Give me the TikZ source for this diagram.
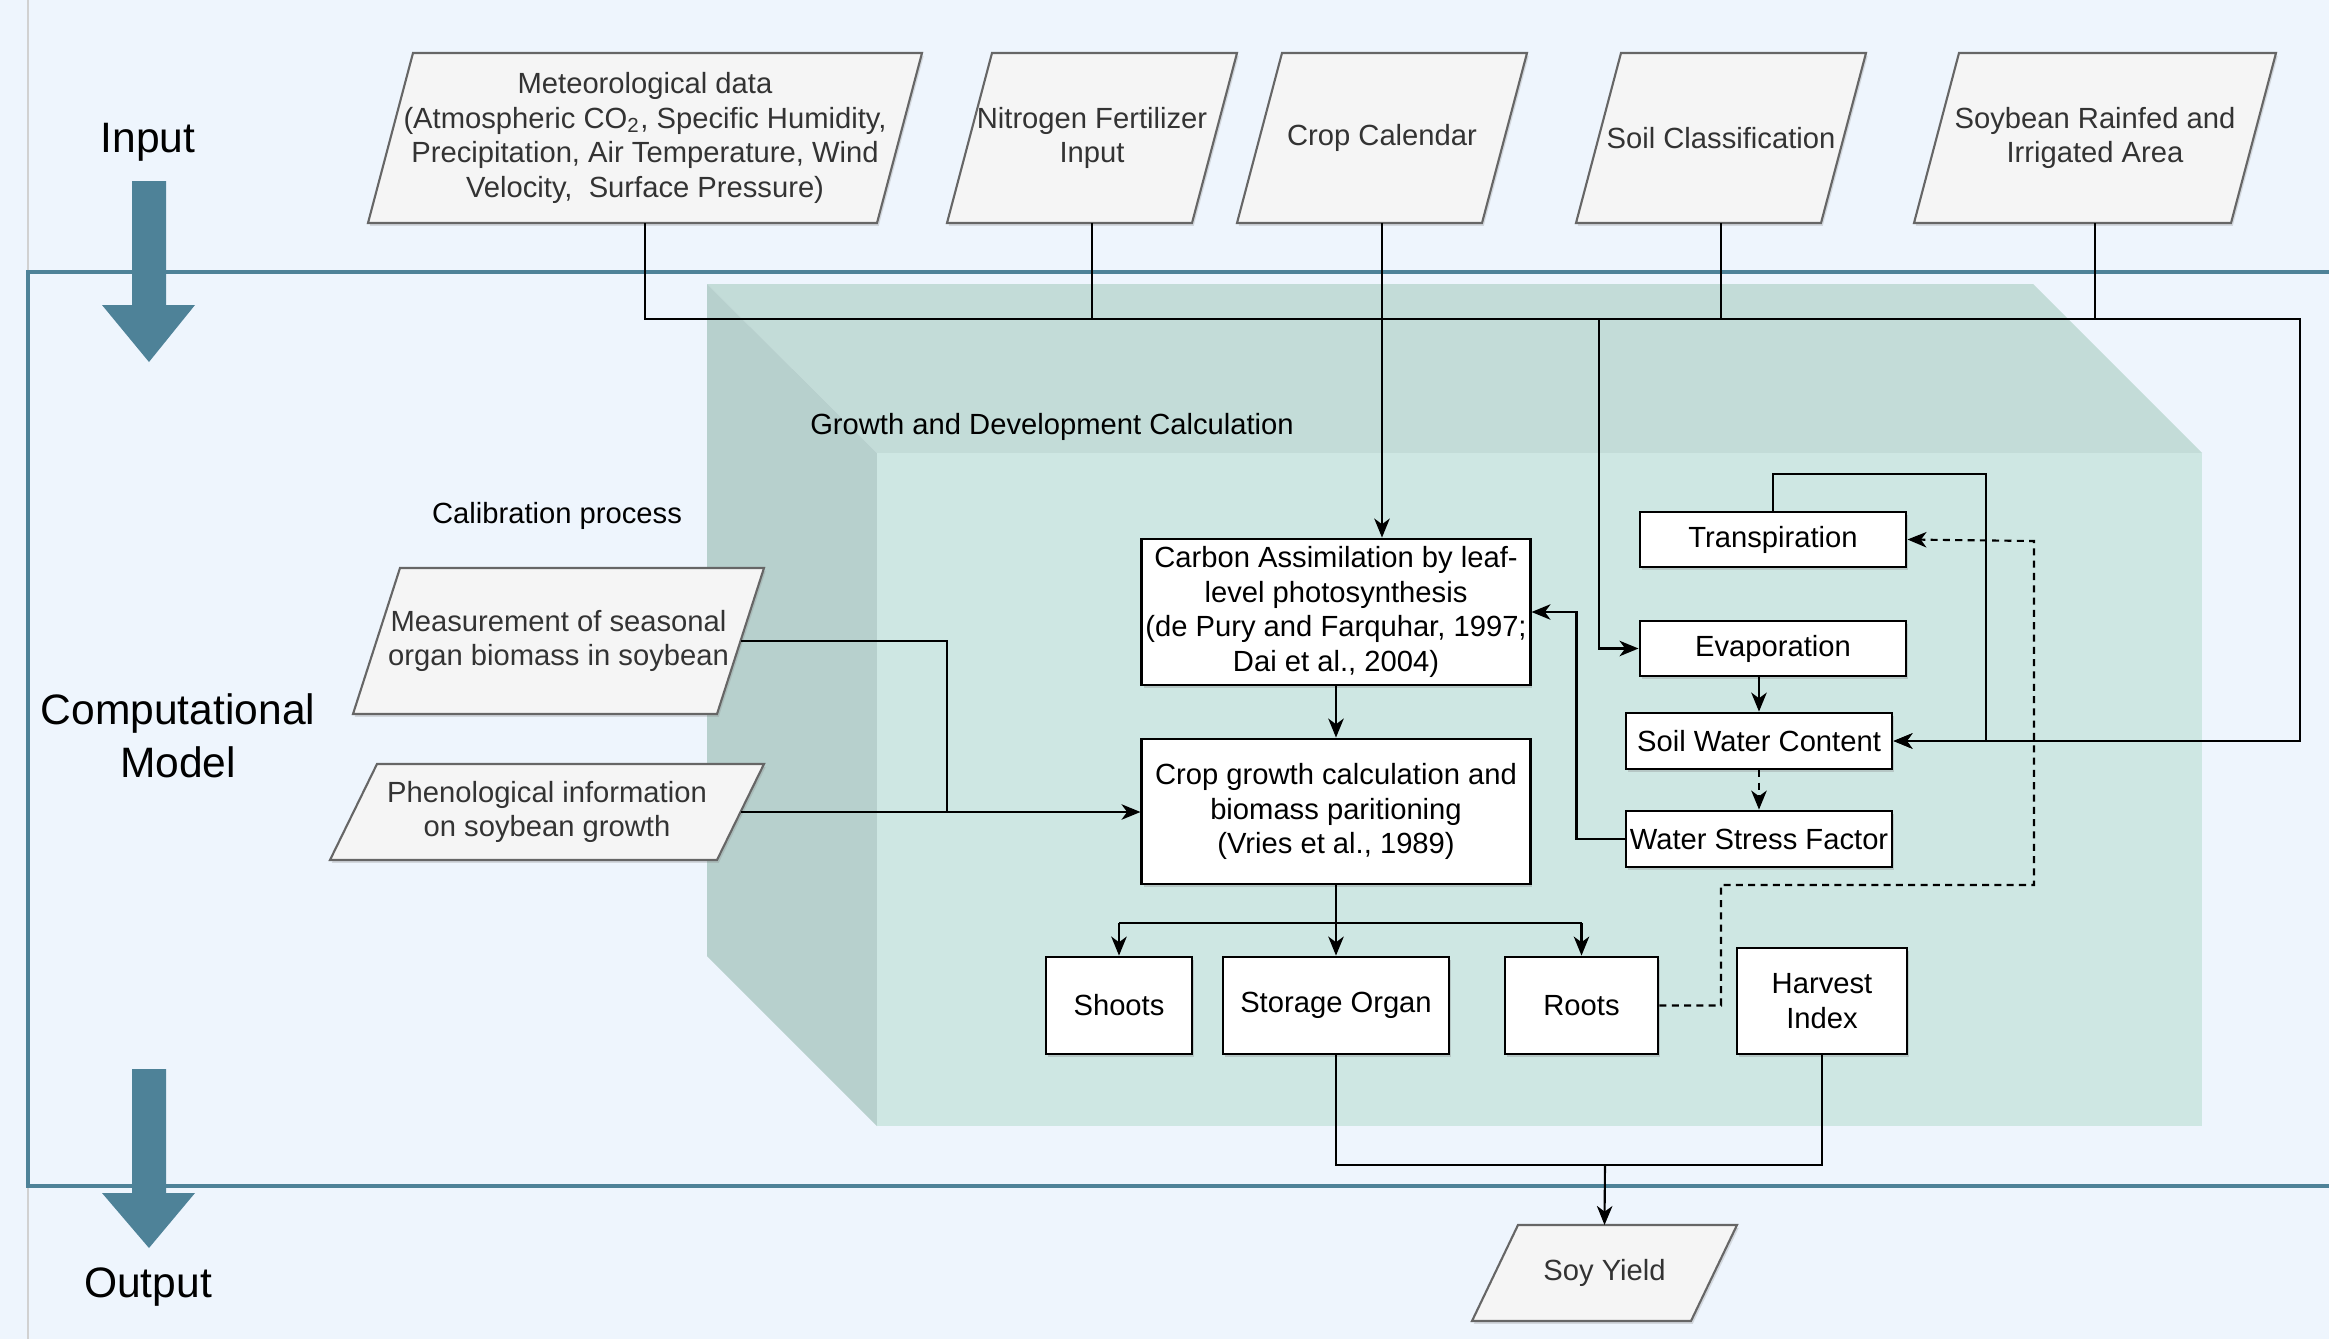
\documentclass[tikz,border=0pt]{standalone}
\usepackage{fontspec}
\setmainfont{Liberation Sans}
\usetikzlibrary{arrows.meta,shadows}
\definecolor{bgblue}{HTML}{EEF5FD}
\definecolor{frontface}{HTML}{CEE7E3}
\definecolor{toppanel}{HTML}{C3DCD8}
\definecolor{leftpanel}{HTML}{B7D0CD}
\definecolor{steel}{HTML}{4E8298}
\definecolor{parafill}{HTML}{F5F5F5}
\definecolor{paraline}{HTML}{666666}
\definecolor{paratextc}{HTML}{333333}
\newcommand\smallfnt{\fontsize{8.3}{9.8}\selectfont}
\newcommand\bigfnt{\fontsize{12.1}{15}\selectfont}
\tikzset{
  boxnode/.style={draw=black, line width=0.8pt, fill=white, inner sep=0pt, align=center,
    font=\smallfnt, drop shadow={opacity=0.3, shadow xshift=0.5pt, shadow yshift=-0.8pt}},
  parashape/.style={draw=paraline, line width=0.6pt, fill=parafill,
    drop shadow={opacity=0.25, shadow xshift=0.5pt, shadow yshift=-0.8pt}},
  paratxt/.style={text=paratextc, align=center, font=\smallfnt, inner sep=0pt},
  plainlabel/.style={align=center, font=\smallfnt, inner sep=0pt},
  biglabel/.style={align=center, font=\bigfnt, inner sep=0pt},
  conn/.style={draw=black, line width=0.6pt},
  arr/.style={conn, -{Stealth[length=5.4pt,width=4.4pt,inset=1.6pt]}},
  dsh/.style={dash pattern=on 2pt off 1.5pt},
  bigarrow/.style={fill=steel, draw=none}
}
% name, xbl, xbr, ytop, ybot, slant, text
\newcommand{\paral}[7]{%
  \path[parashape] (#2,#5) -- (#3,#5) -- ({#3+#6},#4) -- ({#2+#6},#4) -- cycle;
  \node[paratxt] (#1) at ({(#2+#3+#6)/2},{(#4+#5)/2}) {#7};
  \coordinate (#1-s) at ({(#2+#3+#6)/2},#5);
  \coordinate (#1-n) at ({(#2+#3+#6)/2},#4);
  \coordinate (#1-e) at ({#3+#6/2},{(#4+#5)/2});
}
\begin{document}
\begin{tikzpicture}[x=0.01cm,y=-0.01cm]
\useasboundingbox (0,0) rectangle (2329,1339);
\clip (0,0) rectangle (2329,1339);
\fill[bgblue] (0,0) rectangle (2329,1339);
\draw[color=black!18, line width=0.5pt] (28,0) -- (28,1339);

% cube
\fill[toppanel] (707,284) -- (2033,284) -- (2202,453) -- (877,453) -- cycle;
\fill[leftpanel] (707,284) -- (877,453) -- (877,1126) -- (707,956) -- cycle;
\fill[frontface] (877,453) rectangle (2202,1126);

% computational model frame
\draw[steel, line width=1.3pt] (2345,272) -- (28,272) -- (28,1186) -- (2345,1186);

% big arrows
\path[bigarrow] (132,181) -- (166,181) -- (166,305) -- (195,305) -- (149,362) -- (102,305) -- (132,305) -- cycle;
\path[bigarrow] (132,1069) -- (166,1069) -- (166,1193) -- (195,1193) -- (149,1248) -- (102,1193) -- (132,1193) -- cycle;

% labels
\node[biglabel] (lin) at (148,142) {Input};
\node[biglabel] (lcm) at (178,736) {Computational\\Model};
\node[biglabel] (lout) at (148,1287) {Output};
\node[plainlabel] (lcal) at (557,516) {Calibration process};
\node[plainlabel] (lgd) at (1052,427) {Growth and Development Calculation};

% input parallelograms
\paral{met}{368}{877}{53}{223}{45}{Meteorological data\\(Atmospheric CO\textsubscript{2}, Specific Humidity,\\Precipitation, Air Temperature, Wind\\Velocity,\ \ Surface Pressure)}
\paral{nit}{947}{1192}{53}{223}{45}{Nitrogen Fertilizer\\Input}
\paral{cal}{1237}{1482}{53}{223}{45}{Crop Calendar}
\paral{soil}{1576}{1821}{53}{223}{45}{Soil Classification}
\paral{soyb}{1914}{2231}{53}{223}{45}{Soybean Rainfed and\\Irrigated Area}

% calibration parallelograms
\paral{meas}{353}{717}{568}{714}{47}{Measurement of seasonal\\organ biomass in soybean}
\paral{phen}{330}{717}{764}{860}{47}{Phenological information\\on soybean growth}

% output parallelogram
\paral{soy}{1472}{1691}{1225}{1321}{46}{Soy Yield}

% boxes
\node[boxnode, minimum width=3.88cm, minimum height=1.46cm] (carbon) at (1336,612) {Carbon Assimilation by leaf-\\level photosynthesis\\(de Pury and Farquhar, 1997;\\Dai et al., 2004)};
\node[boxnode, minimum width=3.88cm, minimum height=1.45cm] (growth) at (1336,811.5) {Crop growth calculation and\\biomass paritioning\\(Vries et al., 1989)};
\node[boxnode, minimum width=2.66cm, minimum height=0.55cm] (transp) at (1773,539.5) {Transpiration};
\node[boxnode, minimum width=2.66cm, minimum height=0.55cm] (evap) at (1773,648.5) {Evaporation};
\node[boxnode, minimum width=2.66cm, minimum height=0.56cm] (swc) at (1759,741) {Soil Water Content};
\node[boxnode, minimum width=2.66cm, minimum height=0.56cm] (wsf) at (1759,839) {Water Stress Factor};
\node[boxnode, minimum width=1.46cm, minimum height=0.97cm] (shoots) at (1119,1005.5) {Shoots};
\node[boxnode, minimum width=2.26cm, minimum height=0.97cm] (storage) at (1336,1005.5) {Storage Organ};
\node[boxnode, minimum width=1.53cm, minimum height=0.97cm] (roots) at (1581.5,1005.5) {Roots};
\node[boxnode, minimum width=1.70cm, minimum height=1.06cm] (harvest) at (1822,1001) {Harvest\\Index};

% helper coordinates
\coordinate (busy) at (0,319);
\coordinate (busR) at (2300,319);
\coordinate (busE) at (1599,319);
\coordinate (calj) at (947,812);
\coordinate (branchy) at (0,923);
\coordinate (tloop) at (1986,474);
\coordinate (dj1) at (1721,885);
\coordinate (dj2) at (2034,541);
\coordinate (yj) at (1605,1165);

% input bus
\draw[arr] (met-s) |- (busR) |- (swc.east);
\draw[conn] (nit-s) -- (nit-s |- busy);
\draw[conn] (soil-s) -- (soil-s |- busy);
\draw[conn] (soyb-s) -- (soyb-s |- busy);
\draw[arr] (cal-s) -- (cal-s |- carbon.north);
\draw[arr] (busE) |- (evap.west);

% calibration
\draw[conn] (meas-e) -| (calj);
\draw[arr] (phen-e) -- (phen-e -| growth.west);

% main chain
\draw[arr] (carbon.south) -- (growth.north);
\draw[conn] (growth.south) -- (growth.south |- branchy);
\draw[conn] (shoots.north |- branchy) -- (roots.north |- branchy);
\draw[arr] (shoots.north |- branchy) -- (shoots.north);
\draw[arr] (storage.north |- branchy) -- (storage.north);
\draw[arr] (roots.north |- branchy) -- (roots.north);

% water balance
\draw[arr] (evap.south -| swc.north) -- (swc.north);
\draw[arr, dsh] (swc.south) -- (wsf.north);
\draw[arr] (wsf.west) -- ++(-48,0) |- (carbon.east);
\draw[arr] (transp.north) |- (tloop) -- (tloop |- swc.east) -- (swc.east);
\draw[arr, dsh] (roots.east) -| (dj1) -| (dj2) -- (transp.east);

% yield
\draw[conn] (storage.south) |- (yj) -| (harvest.south);
\draw[arr] (yj) -- (soy-n);
\end{tikzpicture}
\end{document}
